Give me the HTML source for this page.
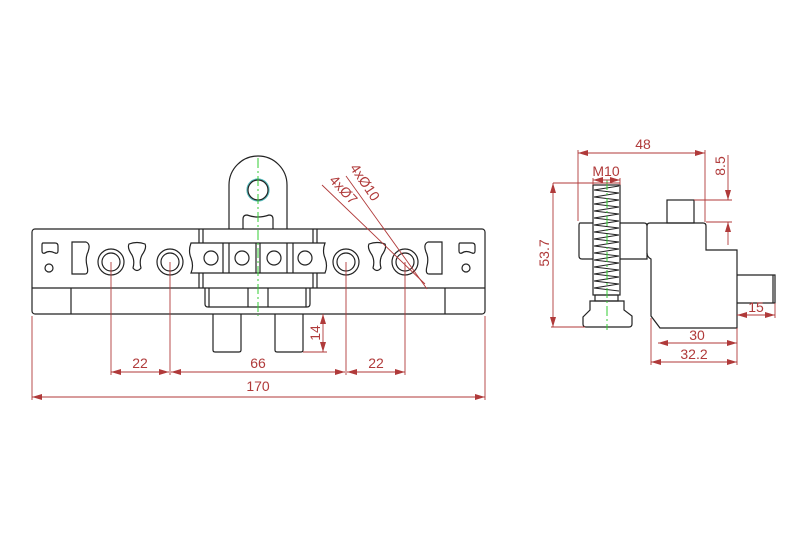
<!DOCTYPE html>
<html><head><meta charset="utf-8"><style>html,body{margin:0;padding:0;background:#fff}svg{display:block}</style></head><body>
<svg width="800" height="547" viewBox="0 0 800 547" xmlns="http://www.w3.org/2000/svg" font-family="Liberation Sans, sans-serif">
<defs>
<marker id="a" viewBox="0 0 10 6" refX="10" refY="3" markerWidth="10" markerHeight="6" orient="auto-start-reverse" markerUnits="userSpaceOnUse"><path d="M0,0L10,3L0,6z" fill="#b03a3a"/></marker>
<g id="ks"><path d="M-8,-14 Q0,-17 8,-14 Q10,-10 5,-3 Q2,3 4,10 Q0,15 -4,10 Q-2,3 -5,-3 Q-10,-10 -8,-14z"/></g>
</defs>
<g fill="none" stroke="#222" stroke-width="1.2">
<rect x="32" y="229" width="453" height="85" rx="3"/>
<line x1="32" y1="288" x2="485" y2="288"/>
<line x1="71" y1="288" x2="71" y2="314"/>
<line x1="445" y1="288" x2="445" y2="314"/>
<path d="M43,243 h12 q3,0 3,3 v5 q0,3 -3,2 q-6,-3 -10,0 q-3,1 -3,-2 v-6 q0,-2 1,-2z"/>
<circle cx="49" cy="268" r="4"/>
<path d="M72,242 h14 q5,2 2,10 q-3,6 -1,14 q2,8 -2,8 h-13z"/>
<path d="M460,243 h12 q3,0 3,3 v5 q0,3 -3,2 q-6,-3 -10,0 q-3,1 -3,-2 v-6 q0,-2 1,-2z"/>
<circle cx="466" cy="268" r="4"/>
<path d="M442,242 h-14 q-5,2 -2,10 q3,6 1,14 q-2,8 2,8 h13z"/>
<use href="#ks" x="137" y="258"/>
<use href="#ks" x="377" y="258"/>
<circle cx="111" cy="262" r="13"/><circle cx="111" cy="262" r="9"/>
<circle cx="170" cy="262" r="13"/><circle cx="170" cy="262" r="9"/>
<circle cx="346" cy="262" r="13"/><circle cx="346" cy="262" r="9"/>
<circle cx="405" cy="262" r="13"/><circle cx="405" cy="262" r="9"/>
<path d="M229,229 V185 A29,29 0 0 1 287,185 V229"/>
<circle cx="258" cy="190" r="11" stroke="#5bb"/>
<circle cx="258" cy="190" r="10"/>
<path d="M243,229 v-10 q0,-4 4,-4 q11,4 22,0 q4,0 4,4 v10"/>
<path d="M199,229 V288 M317,229 V288 M203,229 V288 M313,229 V288"/>
<path d="M191,243 H325 q-3,8 0,15 q3,8 0,15 H191 q3,-7 0,-15 q-3,-7 0,-15z" fill="#fff"/>
<line x1="223" y1="243" x2="223" y2="273"/><line x1="229" y1="243" x2="229" y2="273"/>
<line x1="256" y1="243" x2="256" y2="273"/><line x1="260" y1="243" x2="260" y2="273"/>
<line x1="287" y1="243" x2="287" y2="273"/><line x1="293" y1="243" x2="293" y2="273"/>
<circle cx="211" cy="258" r="7"/><circle cx="242" cy="258" r="7"/><circle cx="274" cy="258" r="7"/><circle cx="305" cy="258" r="7"/>
<path d="M205,288 V304 q0,3 3,3 H307 q3,0 3,-3 V288"/>
<line x1="209" y1="288" x2="209" y2="307"/><line x1="306" y1="288" x2="306" y2="307"/>
<line x1="248" y1="288" x2="248" y2="307"/><line x1="268" y1="288" x2="268" y2="307"/>
<path d="M213,314 V350 q0,2 2,2 H239 q2,0 2,-2 V314"/>
<path d="M275,314 V350 q0,2 2,2 H301 q2,0 2,-2 V314"/>
<path d="M580,223 H644 q3,0 3,3 V259 H582 q-3,0 -3,-3 V226 q0,-3 1,-3z"/>
<path d="M647,226 q0,-3 3,-3 H703 q3,0 3,3 V250 H737 V328 H660 L651,316 V259 q-4,-2 -4,-6"/>
<rect x="667" y="200" width="27" height="23"/>
<path d="M737,275 H775 V303 H737"/>
<line x1="773" y1="275" x2="773" y2="303"/>
<rect x="593" y="185" width="27" height="110" fill="#fff"/>
<g stroke-width="0.9">
<path d="M594,190 L619,186 M594,197 L619,193 M594,204 L619,200 M594,211 L619,207 M594,218 L619,214 M594,225 L619,221 M594,232 L619,228 M594,239 L619,235 M594,246 L619,242 M594,253 L619,249 M594,260 L619,256 M594,267 L619,263 M594,274 L619,270 M594,281 L619,277 M594,288 L619,284"/>
<path d="M594,190 L619,193 M594,197 L619,200 M594,204 L619,207 M594,211 L619,214 M594,218 L619,221 M594,225 L619,228 M594,232 L619,235 M594,239 L619,242 M594,246 L619,249 M594,253 L619,256 M594,260 L619,263 M594,267 L619,270 M594,274 L619,277 M594,281 L619,284 M594,288 L619,291"/>
</g>
<rect x="595" y="295" width="23" height="6"/>
<path d="M590,301 H624 V310 L632,316 V324 q0,3 -3,3 H586 q-3,0 -3,-3 V317 L590,310z"/>
</g>
<g stroke="#3c3" stroke-width="1" stroke-dasharray="10,3,2,3" fill="none">
<line x1="258" y1="158" x2="258" y2="316"/>
<line x1="607" y1="180" x2="607" y2="330"/>
</g>
<g stroke="#b03a3a" stroke-width="0.9" fill="none">
<line x1="32" y1="316" x2="32" y2="400"/><line x1="485" y1="316" x2="485" y2="400"/>
<line x1="32" y1="397" x2="485" y2="397" marker-start="url(#a)" marker-end="url(#a)"/>
<line x1="111" y1="262" x2="111" y2="375"/><line x1="170" y1="262" x2="170" y2="375"/>
<line x1="346" y1="262" x2="346" y2="375"/><line x1="405" y1="262" x2="405" y2="375"/>
<line x1="111" y1="372" x2="169" y2="372" marker-start="url(#a)" marker-end="url(#a)"/>
<line x1="171" y1="372" x2="345" y2="372" marker-start="url(#a)" marker-end="url(#a)"/>
<line x1="347" y1="372" x2="405" y2="372" marker-start="url(#a)" marker-end="url(#a)"/>
<line x1="303" y1="352" x2="327" y2="352"/>
<line x1="323" y1="314" x2="323" y2="352" marker-start="url(#a)" marker-end="url(#a)"/>
<line x1="322" y1="185" x2="425" y2="284"/>
<line x1="346" y1="176" x2="427" y2="289"/>
<line x1="578" y1="150" x2="578" y2="221"/><line x1="705" y1="150" x2="705" y2="222"/>
<line x1="578" y1="153" x2="705" y2="153" marker-start="url(#a)" marker-end="url(#a)"/>
<line x1="553" y1="183" x2="620" y2="183"/>
<line x1="593" y1="178" x2="593" y2="185"/><line x1="620" y1="178" x2="620" y2="185"/>
<line x1="593" y1="180" x2="620" y2="180" marker-start="url(#a)" marker-end="url(#a)"/>
<line x1="551" y1="327" x2="585" y2="327"/>
<line x1="553" y1="183" x2="553" y2="327" marker-start="url(#a)" marker-end="url(#a)"/>
<line x1="694" y1="200" x2="732" y2="200"/><line x1="706" y1="222" x2="732" y2="222"/>
<line x1="728" y1="155" x2="728" y2="200" marker-end="url(#a)"/>
<line x1="728" y1="222" x2="728" y2="245" marker-start="url(#a)"/>
<line x1="775" y1="303" x2="775" y2="318"/>
<line x1="737" y1="315" x2="775" y2="315" marker-start="url(#a)" marker-end="url(#a)"/>
<line x1="651" y1="318" x2="651" y2="365"/><line x1="737" y1="328" x2="737" y2="365"/>
<line x1="658" y1="343" x2="737" y2="343" marker-start="url(#a)" marker-end="url(#a)"/>
<line x1="651" y1="362" x2="737" y2="362" marker-start="url(#a)" marker-end="url(#a)"/>
</g>
<g fill="#b03a3a" font-size="14" text-anchor="middle">
<text x="258" y="391">170</text>
<text x="140" y="368">22</text>
<text x="258" y="368">66</text>
<text x="376" y="368">22</text>
<text x="0" y="0" transform="translate(320,333) rotate(-90)">14</text>
<text x="0" y="0" transform="translate(340,193) rotate(47)">4xØ7</text>
<text x="0" y="0" transform="translate(361,185) rotate(56)">4xØ10</text>
<text x="643" y="149">48</text>
<text x="606" y="176">M10</text>
<text x="0" y="0" transform="translate(549,253) rotate(-90)">53.7</text>
<text x="0" y="0" transform="translate(725,166) rotate(-90)">8.5</text>
<text x="756" y="312">15</text>
<text x="697" y="340">30</text>
<text x="694" y="359">32.2</text>
</g>
</svg>
</body></html>
